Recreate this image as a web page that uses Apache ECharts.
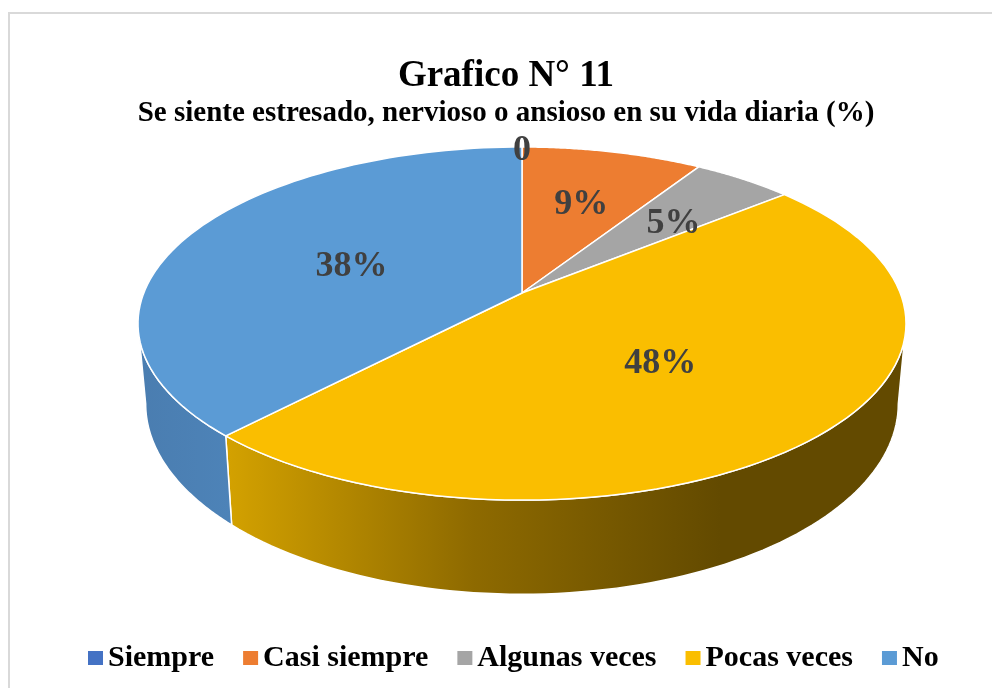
<!DOCTYPE html>
<html>
<head>
<meta charset="utf-8">
<script src="https://cdn.jsdelivr.net/npm/echarts@6/dist/echarts.min.js"></script>
<style>
html, body { margin: 0; padding: 0; background: #fff; }
#main { width: 992px; height: 688px; }
</style>
</head>
<body>
<div id="main"></div>
<script>
var categories = ['Siempre', 'Casi siempre', 'Algunas veces', 'Pocas veces', 'No'];
var values = [0, 9, 5, 48, 38];
var labels = ['0', '9%', '5%', '48%', '38%'];
var colors = ['#4472C4', '#ED7D31', '#A5A5A5', '#FABE00', '#5B9BD5'];

var FONT = '"Liberation Serif", "Times New Roman", serif';

(function () {
    var myChart = echarts.init(document.getElementById('main'));

    var total = values.reduce(function (a, b) { return a + b; }, 0);
    var starts = [];
    var acc = 0;
    values.forEach(function (v) {
        starts.push(acc / total * Math.PI * 2);
        acc += v;
    });

    // simple perspective of a tilted disc
    var P = { x: 522, y: 293, a: 2186, b: 990, d: 5.78, h: 450 };
    var tA = Math.acos(-1 / P.d), tB = Math.PI * 2 - tA; // visible part of the rim

    function proj(t, r, drop) {
        var X = r * Math.sin(t), Y = -r * Math.cos(t);
        var k = 1 / (P.d - Y);
        var sx = P.x + P.a * X * k;
        if (drop) sx = P.x + (sx - P.x) * 0.98;
        return [sx, P.y + (P.b * Y + drop) * k];
    }

    function wallFill(i) {
        if (i === 3) {
            return new echarts.graphic.LinearGradient(225, 0, 720, 0, [
                { offset: 0, color: '#D4A200' },
                { offset: 0.5, color: '#8E6A00' },
                { offset: 1, color: '#634A00' }
            ], true);
        }
        if (i === 4) {
            return new echarts.graphic.LinearGradient(140, 0, 230, 0, [
                { offset: 0, color: '#4A7DB0' },
                { offset: 1, color: '#4D83B8' }
            ], true);
        }
        return colors[i];
    }

    function renderItem(params, api) {
        var i = params.dataIndex;
        var v = api.value(0);
        var t0 = starts[i], t1 = t0 + v / total * Math.PI * 2;
        var children = [];
        var n = 80, s, t;
        if (t1 > t0) {
            var top = [proj(0, 0, 0)];
            for (s = 0; s <= n; s++) top.push(proj(t0 + (t1 - t0) * s / n, 1, 0));
            children.push({
                type: 'polygon', z2: 10,
                shape: { points: top },
                style: { fill: colors[i], stroke: '#fff', lineWidth: 1.5 }
            });
            var a = Math.max(t0, tA), b = Math.min(t1, tB);
            if (b > a) {
                var up = [], down = [];
                for (s = 0; s <= n; s++) {
                    t = a + (b - a) * s / n;
                    up.push(proj(t, 1, 0));
                    down.unshift(proj(t, 1, P.h));
                }
                children.push({
                    type: 'polygon', z2: 1,
                    shape: { points: up.concat(down) },
                    style: { fill: wallFill(i), stroke: '#fff', lineWidth: 1.5 }
                });
            }
        }
        var rl = v === 0 ? 1 : (v < 10 ? 0.62 : 0.5);
        var p = proj((t0 + t1) / 2, rl, 0);
        if (v > 0 && v < 6) p[0] += 8;
        children.push({
            type: 'text', z2: 20, x: p[0], y: p[1] + 4,
            style: {
                text: labels[i], fill: '#404040', fontFamily: FONT,
                fontSize: 36, fontWeight: 'bold', align: 'center', verticalAlign: 'middle'
            }
        });
        return { type: 'group', children: children };
    }

    var option = {
        color: colors,
        animation: false,
        title: {
            text: 'Grafico N° 11',
            subtext: 'Se siente estresado, nervioso o ansioso en su vida diaria (%)',
            left: 501,
            textAlign: 'center',
            top: 53,
            itemGap: 4,
            textStyle: { fontFamily: FONT, fontSize: 37, fontWeight: 'bold', color: '#000' },
            subtextStyle: { fontFamily: FONT, fontSize: 29, fontWeight: 'bold', color: '#000' }
        },
        legend: {
            data: categories,
            top: 643,
            left: 88,
            padding: 0,
            icon: 'rect',
            itemWidth: 15,
            itemHeight: 14,
            itemGap: 29,
            textStyle: { fontFamily: FONT, fontSize: 30, fontWeight: 'bold', color: '#000' }
        },
        graphic: [{
            type: 'rect',
            shape: { x: 9, y: 13, width: 1000, height: 700 },
            style: { fill: 'none', stroke: '#D9D9D9', lineWidth: 2 },
            silent: true
        }],
        series: [
            {
                // only feeds the legend
                type: 'pie',
                radius: [0, 0],
                silent: true,
                label: { show: false },
                data: categories.map(function (c, i) { return { name: c, value: values[i] }; })
            },
            {
                type: 'custom',
                coordinateSystem: 'none',
                renderItem: renderItem,
                data: values.map(function (v) { return [v]; })
            }
        ]
    };
    myChart.setOption(option);
    window.addEventListener('resize', function () {
        myChart.resize();
    });
})();
</script>
</body>
</html>
